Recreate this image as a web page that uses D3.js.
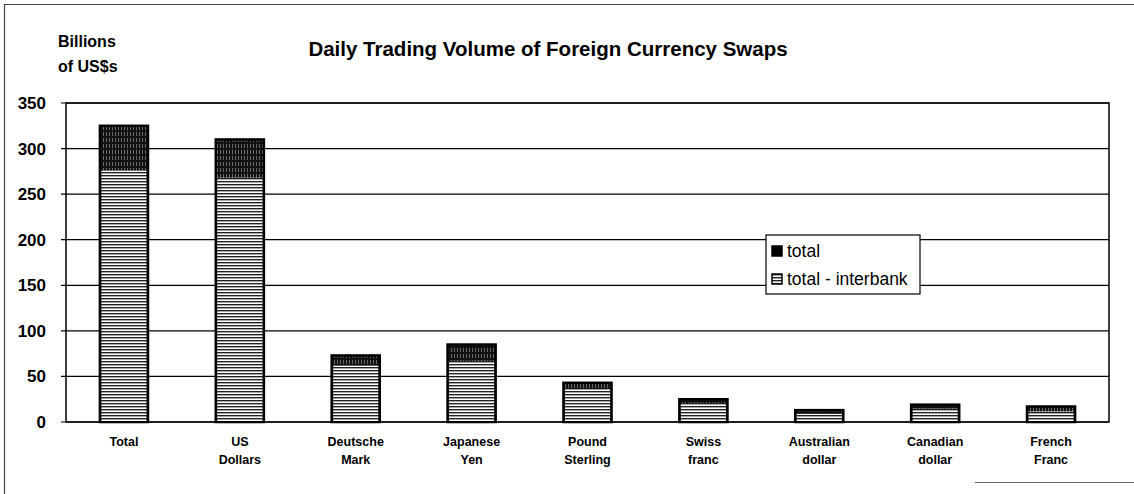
<!doctype html>
<html>
<head>
<meta charset="utf-8">
<script src="https://d3js.org/d3.v7.min.js"></script>
<style>
  body { margin: 0; background: #fff; }
  text { font-family: "Liberation Sans", Arial, sans-serif; fill: #000; }
</style>
</head>
<body>
<svg width="1134" height="494"></svg>
<script>

// category labels (two lines each)
var categories = ["Total", "US Dollars", "Deutsche Mark", "Japanese Yen", "Pound Sterling",
                  "Swiss franc", "Australian dollar", "Canadian dollar", "French Franc"];
var labelLines = [["Total"], ["US", "Dollars"], ["Deutsche", "Mark"], ["Japanese", "Yen"],
                  ["Pound", "Sterling"], ["Swiss", "franc"], ["Australian", "dollar"],
                  ["Canadian", "dollar"], ["French", "Franc"]];
var totalValues     = [325, 310, 73, 85, 43, 25, 13, 19, 17];
var interbankValues = [276, 268, 62, 67, 36.5, 20.5, 9, 14.5, 11.5];
var yTicks = [0, 50, 100, 150, 200, 250, 300, 350];
var seriesNames = ["total", "total - interbank"];

var svg = d3.select("svg");

var plotL = 66, plotR = 1109, plotT = 103, plotB = 422;

var x = d3.scaleBand().domain(categories).range([plotL, plotR]).padding(0);
var y = d3.scaleLinear().domain([0, 350]).range([plotB, plotT]);
var barW = x.bandwidth() * 0.415;

// patterns
var defs = svg.append("defs");
var pTot = defs.append("pattern").attr("id", "pTotal")
    .attr("patternUnits", "userSpaceOnUse").attr("width", 3).attr("height", 6);
pTot.append("rect").attr("width", 3).attr("height", 6).attr("fill", "#111");
pTot.append("rect").attr("x", 1).attr("width", 1).attr("height", 4).attr("fill", "#6a6a6a");

var pInt = defs.append("pattern").attr("id", "pInter")
    .attr("patternUnits", "userSpaceOnUse").attr("width", 6).attr("height", 3);
pInt.append("rect").attr("width", 6).attr("height", 3).attr("fill", "#fff");
pInt.append("rect").attr("y", 1).attr("width", 6).attr("height", 1.4).attr("fill", "#222");

// outer frame (scanned page)
svg.append("path")
    .attr("d", "M4.5,494 L4.5,4.5 L1134,4.5")
    .attr("fill", "none").attr("stroke", "#444").attr("stroke-width", 1.2);
svg.append("line")
    .attr("x1", 975).attr("x2", 1134).attr("y1", 482.5).attr("y2", 482.5)
    .attr("stroke", "#666").attr("stroke-width", 1.2);

// gridlines
svg.append("g").selectAll("line").data(yTicks).join("line")
    .attr("x1", plotL - 5).attr("x2", plotR)
    .attr("y1", function(d) { return y(d); }).attr("y2", function(d) { return y(d); })
    .attr("stroke", "#000").attr("stroke-width", 1.2);

// plot frame
svg.append("rect")
    .attr("x", plotL).attr("y", plotT).attr("width", plotR - plotL).attr("height", plotB - plotT)
    .attr("fill", "none").attr("stroke", "#000").attr("stroke-width", 1.5);

// y tick labels
svg.append("g").selectAll("text").data(yTicks).join("text")
    .attr("x", 46).attr("y", function(d) { return y(d) + 6; })
    .attr("text-anchor", "end").attr("font-size", 17).attr("font-weight", "bold")
    .text(function(d) { return d; });

// bars: total behind, interbank in front
svg.append("g").selectAll("rect").data(categories).join("rect")
    .attr("x", function(d) { return x(d) + (x.bandwidth() - barW) / 2; })
    .attr("width", barW)
    .attr("y", function(d, i) { return y(totalValues[i]); })
    .attr("height", function(d, i) { return y(0) - y(totalValues[i]); })
    .attr("fill", "url(#pTotal)").attr("stroke", "#000").attr("stroke-width", 2.5);

svg.append("g").selectAll("rect").data(categories).join("rect")
    .attr("x", function(d) { return x(d) + (x.bandwidth() - barW) / 2 + 1.5; })
    .attr("width", barW - 3)
    .attr("y", function(d, i) { return y(interbankValues[i]); })
    .attr("height", function(d, i) { return y(0) - y(interbankValues[i]) - 1; })
    .attr("fill", "url(#pInter)").attr("stroke", "none");

// category labels
var lab = svg.append("g").selectAll("text").data(categories).join("text")
    .attr("x", function(d) { return x(d) + x.bandwidth() / 2; })
    .attr("y", 446)
    .attr("text-anchor", "middle").attr("font-size", 12.5).attr("font-weight", "bold");
lab.selectAll("tspan").data(function(d, i) { return labelLines[i]; }).join("tspan")
    .attr("x", function() { return d3.select(this.parentNode).attr("x"); })
    .attr("dy", function(d, j) { return j === 0 ? 0 : 18; })
    .text(function(d) { return d; });

// title and axis label
svg.append("text").attr("x", 548).attr("y", 56).attr("text-anchor", "middle")
    .attr("font-size", 20.5).attr("font-weight", "bold")
    .text("Daily Trading Volume of Foreign Currency Swaps");
svg.append("text").attr("x", 58).attr("y", 47).attr("font-size", 16).attr("font-weight", "bold").text("Billions");
svg.append("text").attr("x", 58).attr("y", 72).attr("font-size", 16).attr("font-weight", "bold").text("of US$s");

// legend
var lg = svg.append("g").attr("transform", "translate(766,235)");
lg.append("rect").attr("width", 154).attr("height", 59)
    .attr("fill", "#fff").attr("stroke", "#000").attr("stroke-width", 1.2);
var items = lg.selectAll("g").data(seriesNames).join("g")
    .attr("transform", function(d, i) { return "translate(6," + (16 + i * 28) + ")"; });
items.append("rect").attr("x", 0).attr("y", -5).attr("width", 10).attr("height", 10)
    .attr("fill", function(d, i) { return i === 0 ? "#000" : "url(#pInter)"; })
    .attr("stroke", "#000").attr("stroke-width", 1.5);
items.append("text").attr("x", 15).attr("y", 6).attr("font-size", 17.5).text(function(d) { return d; });

</script>
</body>
</html>
